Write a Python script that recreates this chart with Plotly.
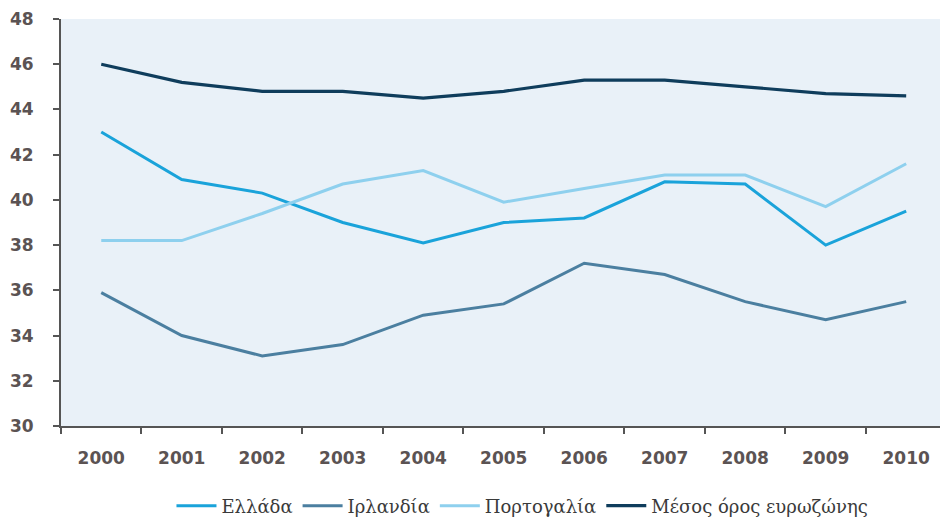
import plotly.graph_objects as go

years = ["2000", "2001", "2002", "2003", "2004", "2005",
         "2006", "2007", "2008", "2009", "2010"]

ellada = [43.0, 40.9, 40.3, 39.0, 38.1, 39.0, 39.2, 40.8, 40.7, 38.0, 39.5]
irlandia = [35.9, 34.0, 33.1, 33.6, 34.9, 35.4, 37.2, 36.7, 35.5, 34.7, 35.5]
portogalia = [38.2, 38.2, 39.4, 40.7, 41.3, 39.9, 40.5, 41.1, 41.1, 39.7, 41.6]
eurozone = [46.0, 45.2, 44.8, 44.8, 44.5, 44.8, 45.3, 45.3, 45.0, 44.7, 44.6]

series = [
    ("Ελλάδα", ellada, "#1aa3da", 3),
    ("Ιρλανδία", irlandia, "#4b7fa0", 3),
    ("Πορτογαλία", portogalia, "#8ed0ee", 3),
    ("Μέσος όρος ευρωζώνης", eurozone, "#0f3d5c", 3.2),
]

fig = go.Figure()
for name, vals, color, w in series:
    fig.add_trace(go.Scatter(
        x=years, y=vals, name=name, mode="lines",
        line=dict(color=color, width=w),
    ))

tick_font = dict(family="DejaVu Sans", size=17, color="#5b5353", weight="bold")

fig.update_layout(
    width=940, height=519,
    margin=dict(l=61, r=0, t=19, b=93),
    paper_bgcolor="white",
    plot_bgcolor="#e9f1f8",
    showlegend=True,
    legend=dict(
        orientation="h", xref="paper", x=0.525, xanchor="center",
        yref="container", y=0.025, yanchor="middle",
        font=dict(family="DejaVu Serif", size=18, color="#3a3a3a"),
        itemwidth=40, tracegroupgap=0,
    ),
    xaxis=dict(
        type="category", range=[-0.5, 10.42], automargin=False,
        showgrid=False, zeroline=False,
        showline=True, linecolor="#555555", linewidth=2,
        ticks="outside", tickson="boundaries", ticklen=6,
        tickcolor="#555555", tickwidth=2,
        tickfont=tick_font, ticklabelstandoff=16,
    ),
    yaxis=dict(
        range=[30, 48], dtick=2, automargin=False,
        showgrid=False, zeroline=False,
        showline=True, linecolor="#555555", linewidth=2,
        ticks="outside", ticklen=6, tickcolor="#555555", tickwidth=2,
        tickfont=tick_font, ticklabelstandoff=16,
    ),
)

fig.write_html("out.html")
